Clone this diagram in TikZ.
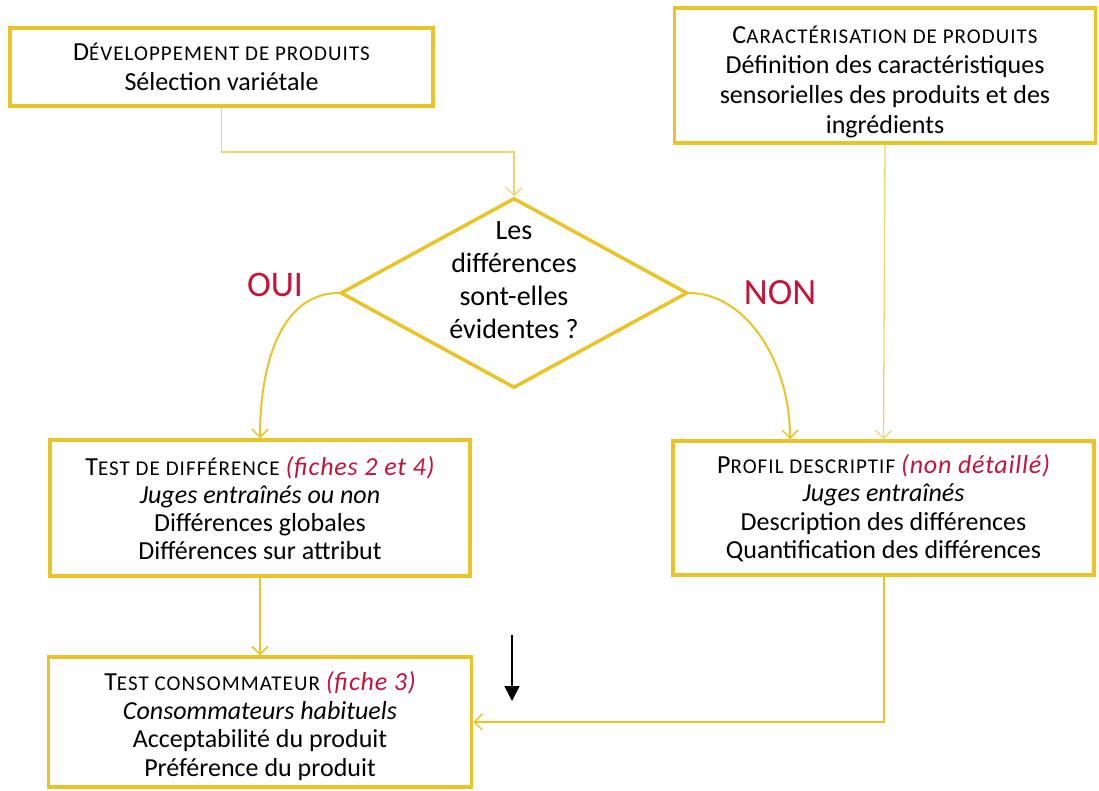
\documentclass[tikz,border=0pt]{standalone}
\usepackage{fontspec}
\setmainfont{Carlito}
\usetikzlibrary{arrows.meta,shapes.geometric}
\definecolor{gold}{RGB}{232,196,40}
\definecolor{goldlight}{RGB}{238,212,110}
\definecolor{crim}{RGB}{196,20,60}
\newcommand\scap[2]{{\addfontfeatures{LetterSpace=5}{\fontsize{26}{28}\selectfont #1}{\fontsize{21}{28}\selectfont #2}}}
\newcommand\redit[1]{{\color{crim}\itshape\fontsize{26}{28}\selectfont\addfontfeatures{LetterSpace=3} #1}}
\begin{document}
\begin{tikzpicture}[x=1pt,y=-1pt,
  box/.style={draw=gold, line width=3.5pt, fill=white, align=center, inner sep=0pt},
  conn/.style={draw=gold, line width=2pt, -{Straight Barb[length=8pt,width=16pt,line width=1.5pt]}},
  lightconn/.style={draw=goldlight, line width=1.3pt, -{Straight Barb[length=8pt,width=16pt,line width=1.2pt]}},
  lbl/.style={text=crim, font=\fontsize{36}{40}\selectfont}]
\useasboundingbox (0,0) rectangle (1099,791);

\node[box, minimum width=423pt, minimum height=78pt, font=\fontsize{26}{30}\selectfont] (d1) at (221.5,67)
  {\scap{D}{ÉVELOPPEMENT DE PRODUITS}\\ Sélection variétale};
\node[box, minimum width=421pt, minimum height=135pt, font=\fontsize{26}{30}\selectfont] (c2) at (885,75.5)
  {\rule{0pt}{31pt}\scap{C}{ARACTÉRISATION DE PRODUITS}\\ Définition des caractéristiques\\ sensorielles des produits et des\\ ingrédients};
\node[diamond, draw=gold, line width=3.5pt, fill=white, minimum width=347pt, minimum height=190pt, inner sep=0pt] (q) at (514,293) {};
\node[align=center, font=\fontsize{28}{33}\selectfont] (qt) at (514,280) {Les\\ différences\\ sont-elles\\ évidentes ?};
\node[lbl] (oui) at (275,285) {OUI};
\node[lbl, font=\fontsize{37}{40}\selectfont] (non) at (780,293) {NON};
\node[box, minimum width=420pt, minimum height=136pt, font=\fontsize{26}{28}\selectfont] (td) at (260,508)
  {\scap{T}{EST DE DIFFÉRENCE} \redit{(fiches 2 et 4)}\\ \textit{Juges entraînés ou non}\\ Différences globales\\ Différences sur attribut};
\node[box, minimum width=421pt, minimum height=134pt, font=\fontsize{26}{28.5}\selectfont] (pd) at (883.5,508)
  {\scap{P}{ROFIL DESCRIPTIF} \redit{(non détaillé)}\\ \textit{Juges entraînés}\\ Description des différences\\ Quantification des différences};
\node[box, minimum width=423pt, minimum height=130pt, font=\fontsize{26}{28.5}\selectfont] (tc) at (260,722)
  {\rule{0pt}{27pt}\scap{T}{EST CONSOMMATEUR} \redit{(fiche 3)}\\ \textit{Consommateurs habituels}\\ Acceptabilité du produit\\ Préférence du produit};

\coordinate (k1) at (221.5,152);
\draw[lightconn] (d1.south) -- (k1) -| (q.north);
\draw[lightconn] (c2.south) -- (pd.north);
\draw[conn] (q.west) .. controls +(-55,0) and +(0,-80) .. (td.north);
\draw[conn] (q.east) .. controls +(55,0) and +(0,-80) .. ([xshift=-93.5pt]pd.north);
\draw[conn] (td.south) -- (tc.north);
\draw[conn] (pd.south) |- (tc.east);

\coordinate (b1) at (512,635);
\coordinate (b2) at (512,701);
\draw[line width=1.5pt, -{Triangle[length=15pt,width=15pt]}] (b1) -- (b2);
\end{tikzpicture}
\end{document}
